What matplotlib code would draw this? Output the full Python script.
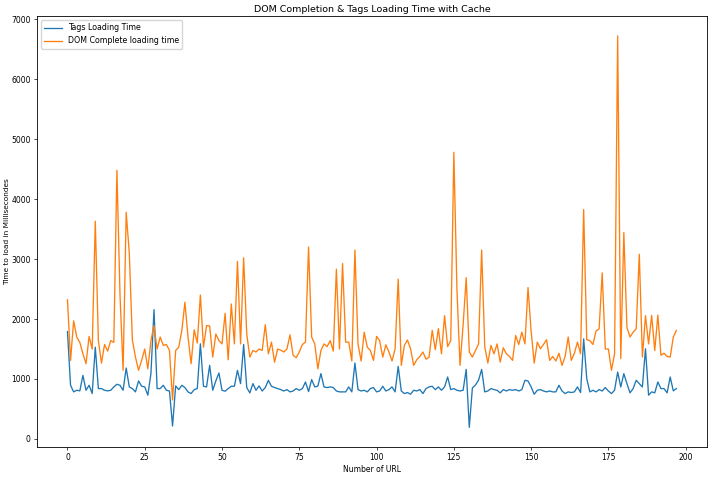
import matplotlib
matplotlib.use("Agg")
import matplotlib.pyplot as plt
import numpy as np

title = "DOM Completion & Tags Loading Time with Cache"
xlabel = "Number of URL"
ylabel = "Time to load in Millisecondes"
tags_label = "Tags Loading Time"
dom_label = "DOM Complete loading time"

dom_time = [
    2320, 1310, 1970, 1700, 1610, 1420, 1255, 1710, 1500, 3630,
    1640, 1265, 1575, 1465, 1640, 1610, 4480, 2400, 1145, 3780,
    3100, 1650, 1365, 1145, 1310, 1500, 1170, 1640, 1890, 1500,
    1700, 1560, 1575, 1475, 650, 1475, 1530, 1810, 2280, 1700,
    1255, 1820, 1600, 2400, 1530, 1890, 1885, 1365, 1750, 1640,
    1585, 2095, 1320, 2250, 1585, 2960, 1585, 3020, 1750, 1365,
    1475, 1450, 1500, 1475, 1905, 1420, 1615, 1280, 1500, 1480,
    1450, 1500, 1735, 1395, 1355, 1450, 1575, 1615, 3200, 1700,
    1585, 1170, 1475, 1585, 1540, 1640, 1465, 2830, 1500, 2925,
    1615, 1615, 1300, 3150, 1585, 1300, 1780, 1530, 1475, 1310,
    1710, 1640, 1365, 1570, 1450, 1300, 1500, 2665, 1227, 1560,
    1650, 1505, 1227, 1320, 1375, 1450, 1330, 1365, 1810, 1490,
    1840, 1420, 2055, 1540, 1640, 4780, 2500, 1227, 1900, 2690,
    1450, 1365, 1475, 1585, 3150, 1540, 1265, 1560, 1420, 1585,
    1282, 1520, 1420, 1375, 1310, 1725, 1575, 1780, 1585, 2525,
    1800, 1265, 1615, 1505, 1575, 1655, 1310, 1375, 1300, 1430,
    1227, 1375, 1700, 1310, 1430, 1615, 1420, 3825, 1655, 1640,
    1575, 1800, 1835, 2770, 1500, 1500, 1145, 1420, 6720, 1340,
    3440, 1860, 1700, 1780, 1835, 3080, 1365, 2055, 1585, 2060,
    1475, 2065, 1395, 1430, 1375, 1365, 1700, 1810,
]

tags_time = [
    1790, 895, 785, 812, 802, 1060, 812, 895, 757, 1530,
    840, 840, 812, 802, 812, 868, 912, 895, 812, 1183,
    868, 840, 785, 967, 879, 868, 730, 1089, 2156, 840,
    840, 895, 812, 800, 216, 884, 823, 895, 857, 785,
    757, 823, 840, 1586, 879, 868, 1227, 812, 967, 1100,
    812, 796, 840, 879, 879, 1144, 923, 1575, 857, 768,
    923, 812, 884, 800, 857, 978, 879, 857, 840, 823,
    800, 823, 785, 800, 840, 812, 840, 950, 790, 990,
    868, 880, 1090, 868, 857, 868, 857, 800, 785, 785,
    785, 868, 785, 1266, 823, 800, 812, 785, 840, 857,
    785, 800, 879, 800, 823, 868, 785, 1210, 800, 757,
    774, 746, 812, 800, 823, 757, 840, 868, 879, 823,
    868, 812, 868, 1033, 823, 840, 812, 800, 812, 1160,
    194, 850, 900, 980, 1160, 785, 800, 840, 823, 812,
    768, 823, 800, 823, 812, 823, 800, 823, 978, 967,
    868, 746, 812, 823, 800, 785, 800, 785, 785, 895,
    800, 757, 785, 774, 785, 868, 774, 1669, 1006, 785,
    812, 785, 823, 800, 857, 800, 757, 812, 1116, 867,
    1089, 923, 769, 840, 978, 923, 867, 1504, 730, 785,
    769, 950, 840, 840, 769, 1033, 802, 840,
]

fig = plt.figure(figsize=(7.16, 4.96), dpi=100)
ax = fig.add_axes([0.0517, 0.099, 0.9355, 0.868])
x = np.arange(len(tags_time))
ax.plot(x, tags_time, color="#1f77b4", lw=0.95, label=tags_label)
ax.plot(x, dom_time, color="#ff7f0e", lw=0.95, label=dom_label)
ax.set_title(title, fontsize=6.8, pad=3)
ax.set_xlabel(xlabel, fontsize=5.5, labelpad=2)
ax.set_ylabel(ylabel, fontsize=5.3, labelpad=1.2)
ax.tick_params(labelsize=5.5, length=2.5, width=0.5, pad=2)
for s in ax.spines.values():
    s.set_linewidth(0.6)
ax.legend(loc="upper left", fontsize=5.7, handlelength=2.2)
fig.savefig("out.png", dpi=100)
